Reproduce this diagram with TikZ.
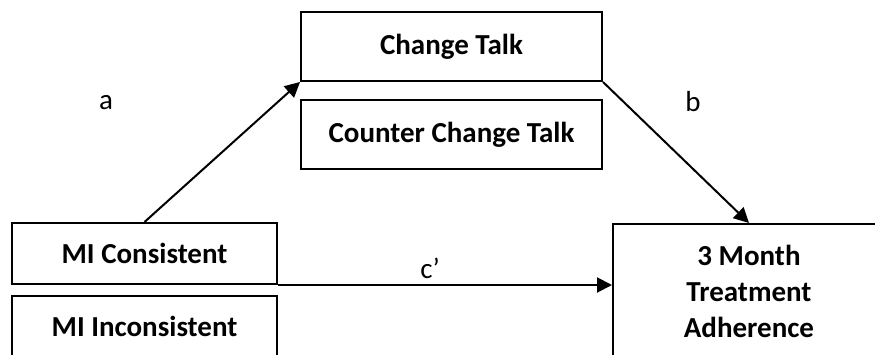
\documentclass[tikz,border=0pt]{standalone}
\usepackage{fontspec}
\setmainfont{Carlito}
\usetikzlibrary{positioning,arrows.meta}
\tikzset{
	pathlabel/.style = {
		font=\fontsize{29}{35}\selectfont
	}
}

\begin{document}
\begin{tikzpicture}[ 
		x = 1pt, y = -1pt,
        node distance = 17pt, 
        box/.style = {draw, line width=2pt, align=center, inner sep=0pt,
                      font=\bfseries\fontsize{29}{36}\selectfont}, 
        >={Triangle[length=15pt,width=15pt]},
        line width = 2pt
    ]
    \useasboundingbox (0,0) rectangle (875,354);
    \clip (0,0) rectangle (875,354);

    \node[box, minimum width=301pt, minimum height=69pt] (chg) at (451.5,46.5) {Change Talk};
    \node[box, minimum width=301pt, minimum height=69pt, below = of chg] (ctr) {Counter Change Talk};
    \node[box, minimum width=265pt, minimum height=61pt] (con) at (144.5,253.5) {MI Consistent};
    \node[box, minimum width=265pt, minimum height=61pt, below = 10pt of con] (inc) {MI Inconsistent};
    \node[box, minimum width=272pt, minimum height=135pt, anchor=north west] (out) at (612,223) {3 Month\\Treatment\\Adherence};

    \node[pathlabel] (la) at (106,103) {a};
    \node[pathlabel] (lb) at (693,102) {b};
    \node[pathlabel] (lc) at (430,268) {c’};

    \draw[->] (con.north) -- (chg.south west);
    \draw[->] (chg.south east) -- (out.north);
    \draw[->] (con.south east) -- (con.south east -| out.west);

\end{tikzpicture}
\end{document}
